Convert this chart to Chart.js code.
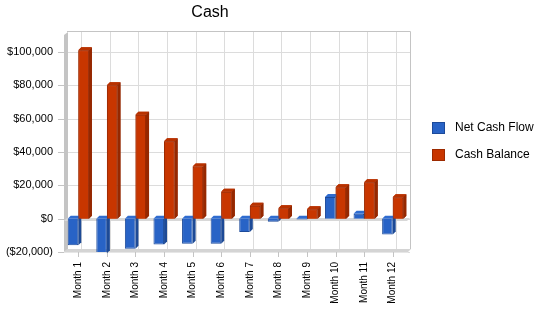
<!DOCTYPE html>
<html>
<head>
<meta charset="utf-8">
<script src="https://cdn.jsdelivr.net/npm/chart.js@4/dist/chart.umd.min.js"></script>
<style>
  html, body { margin: 0; padding: 0; background: #fff; }
  #wrap { width: 550px; height: 318px; }
</style>
</head>
<body>
<div id="wrap"><canvas id="cashChart" width="550" height="318"></canvas></div>
<script>
const months = ['Month 1', 'Month 2', 'Month 3', 'Month 4', 'Month 5', 'Month 6',
                'Month 7', 'Month 8', 'Month 9', 'Month 10', 'Month 11', 'Month 12'];
const netCashFlow = [-16000, -20800, -18000, -15500, -15000, -15000, -8000, -1800, -500, 13000, 3000, -9500];
const cashBalance = [101000, 80000, 62300, 46500, 31300, 16200, 7800, 6200, 5600, 18800, 21800, 12800];
const yTicks = [-20000, 0, 20000, 40000, 60000, 80000, 100000];

const FONT = '"Liberation Sans", Arial, sans-serif';
const DEPTH = 3;

function money(v) {
    const s = '$' + Math.abs(v).toLocaleString('en-US');
    return v < 0 ? '(' + s + ')' : s;
}

// back wall, side wall, floor, grid
const wallPlugin = {
    id: 'wall',
    beforeDatasetsDraw(chart) {
        const ctx = chart.ctx;
        const a = chart.chartArea;
        const xs = chart.scales.x, ys = chart.scales.y;
        ctx.save();
        ctx.lineWidth = 1;
        ctx.strokeStyle = '#dcdcdc';
        yTicks.forEach(v => {
            const py = Math.round(ys.getPixelForValue(v)) + 0.5;
            ctx.beginPath();
            ctx.moveTo(a.left + DEPTH, py);
            ctx.lineTo(a.right + DEPTH, py);
            ctx.stroke();
        });
        months.forEach((m, i) => {
            const px = Math.round(xs.getPixelForTick(i)) + DEPTH + 0.5;
            ctx.beginPath();
            ctx.moveTo(px, a.top);
            ctx.lineTo(px, a.bottom - DEPTH);
            ctx.stroke();
        });
        // back wall border
        ctx.strokeStyle = '#c4c4c4';
        ctx.beginPath();
        ctx.moveTo(a.left + DEPTH, a.top - 0.5);
        ctx.lineTo(a.right + DEPTH + 0.5, a.top - 0.5);
        ctx.lineTo(a.right + DEPTH + 0.5, a.bottom - DEPTH);
        ctx.stroke();
        // left wall
        ctx.fillStyle = '#c4c4c4';
        ctx.beginPath();
        ctx.moveTo(a.left, a.top + DEPTH);
        ctx.lineTo(a.left + DEPTH + 1, a.top);
        ctx.lineTo(a.left + DEPTH + 1, a.bottom - DEPTH);
        ctx.lineTo(a.left, a.bottom);
        ctx.closePath();
        ctx.fill();
        // floor
        ctx.fillStyle = '#d4d4d4';
        ctx.beginPath();
        ctx.moveTo(a.left, a.bottom);
        ctx.lineTo(a.left + DEPTH, a.bottom - DEPTH);
        ctx.lineTo(a.right + DEPTH + 1, a.bottom - DEPTH);
        ctx.lineTo(a.right + 1, a.bottom);
        ctx.closePath();
        ctx.fill();
        ctx.fillStyle = '#e6e6e6';
        ctx.fillRect(a.left, a.bottom, a.right - a.left + 1, 1);
        // zero plane
        const z = Math.round(ys.getPixelForValue(0));
        ctx.fillStyle = '#d8d8d8';
        ctx.beginPath();
        ctx.moveTo(a.left + DEPTH, z - 1);
        ctx.lineTo(a.right + DEPTH, z - 1);
        ctx.lineTo(a.right, z + 2);
        ctx.lineTo(a.left, z + 2);
        ctx.closePath();
        ctx.fill();
        // tick marks
        ctx.strokeStyle = '#c4c4c4';
        yTicks.forEach(v => {
            const py = Math.round(ys.getPixelForValue(v)) + 0.5;
            ctx.beginPath();
            ctx.moveTo(a.left - 6, py);
            ctx.lineTo(a.left, py);
            ctx.stroke();
        });
        months.forEach((m, i) => {
            const px = Math.round(xs.getPixelForTick(i)) + 0.5;
            ctx.beginPath();
            ctx.moveTo(px, a.bottom);
            ctx.lineTo(px, a.bottom + 5);
            ctx.stroke();
        });
        ctx.restore();
    }
};

function drawFaces(chart, index) {
    const ds = chart.data.datasets[index];
    const meta = chart.getDatasetMeta(index);
    const ctx = chart.ctx;
    ctx.save();
    meta.data.forEach(bar => {
        const p = bar.getProps(['x', 'y', 'base', 'width'], true);
        const l = p.x - p.width / 2, r = p.x + p.width / 2;
        const top = Math.min(p.y, p.base), bot = Math.max(p.y, p.base);
        ctx.fillStyle = ds.topColor;
        ctx.beginPath();
        ctx.moveTo(l, top);
        ctx.lineTo(l + DEPTH, top - DEPTH);
        ctx.lineTo(r + DEPTH, top - DEPTH);
        ctx.lineTo(r, top);
        ctx.closePath();
        ctx.fill();
        ctx.fillStyle = ds.sideColor;
        ctx.beginPath();
        ctx.moveTo(r, top);
        ctx.lineTo(r + DEPTH, top - DEPTH);
        ctx.lineTo(r + DEPTH, bot - DEPTH);
        ctx.lineTo(r, bot);
        ctx.closePath();
        ctx.fill();
    });
    ctx.restore();
}

// 3D faces; the right-hand series is painted again so it sits in front
const bar3dPlugin = {
    id: 'bar3d',
    afterDatasetDraw(chart, args) {
        drawFaces(chart, args.index);
    },
    afterDatasetsDraw(chart) {
        const last = chart.data.datasets.length - 1;
        chart.getDatasetMeta(last).data.forEach(el => el.draw(chart.ctx));
        drawFaces(chart, last);
    }
};

// title and legend
const textPlugin = {
    id: 'texts',
    afterDraw(chart) {
        const ctx = chart.ctx;
        ctx.save();
        ctx.fillStyle = '#000';
        ctx.font = '16px ' + FONT;
        ctx.textAlign = 'center';
        ctx.textBaseline = 'alphabetic';
        ctx.fillText('Cash', 210, 17);
        ctx.font = '12px ' + FONT;
        ctx.textAlign = 'left';
        ctx.textBaseline = 'middle';
        chart.data.datasets.forEach((ds, i) => {
            const y = 128 + i * 27;
            ctx.fillStyle = ds.backgroundColor;
            ctx.fillRect(432, y - 6, 13, 12);
            ctx.strokeStyle = ds.borderColor;
            ctx.lineWidth = 1;
            ctx.strokeRect(432.5, y - 5.5, 12, 11);
            ctx.fillStyle = '#000';
            ctx.fillText(ds.label, 455, y);
        });
        ctx.restore();
    }
};

new Chart(document.getElementById('cashChart'), {
    type: 'bar',
    data: {
        labels: months,
        datasets: [{
            label: 'Net Cash Flow',
            data: netCashFlow,
            backgroundColor: '#2863c6',
            borderColor: '#1c4a9a',
            topColor: '#2f6cd0',
            sideColor: '#1d4a96',
            borderWidth: 1
        }, {
            label: 'Cash Balance',
            data: cashBalance,
            backgroundColor: '#c83600',
            borderColor: '#9c2a00',
            topColor: '#b83200',
            sideColor: '#962800',
            borderWidth: 1
        }]
    },
    options: {
        responsive: false,
        animation: false,
        devicePixelRatio: 1,
        layout: { padding: { top: 32, right: 143, left: 0, bottom: 0 } },
        datasets: { bar: { categoryPercentage: 0.74, barPercentage: 1 } },
        plugins: {
            legend: { display: false },
            title: { display: false },
            tooltip: { enabled: false }
        },
        scales: {
            x: {
                grid: { display: false, drawTicks: false },
                border: { display: false },
                ticks: {
                    color: '#000',
                    font: { family: FONT, size: 10 },
                    minRotation: 90,
                    maxRotation: 90,
                    padding: 10
                },
                afterFit(scale) { scale.height = 66; }
            },
            y: {
                min: -20000,
                max: 112000,
                grid: { display: false, drawTicks: false },
                border: { display: false },
                ticks: {
                    stepSize: 20000,
                    color: '#000',
                    font: { family: FONT, size: 11 },
                    padding: 11,
                    callback: v => money(v)
                },
                afterBuildTicks(scale) {
                    scale.ticks = yTicks.map(v => ({ value: v }));
                },
                afterFit(scale) { scale.width = 64; }
            }
        }
    },
    plugins: [wallPlugin, bar3dPlugin, textPlugin]
});
</script>
</body>
</html>
